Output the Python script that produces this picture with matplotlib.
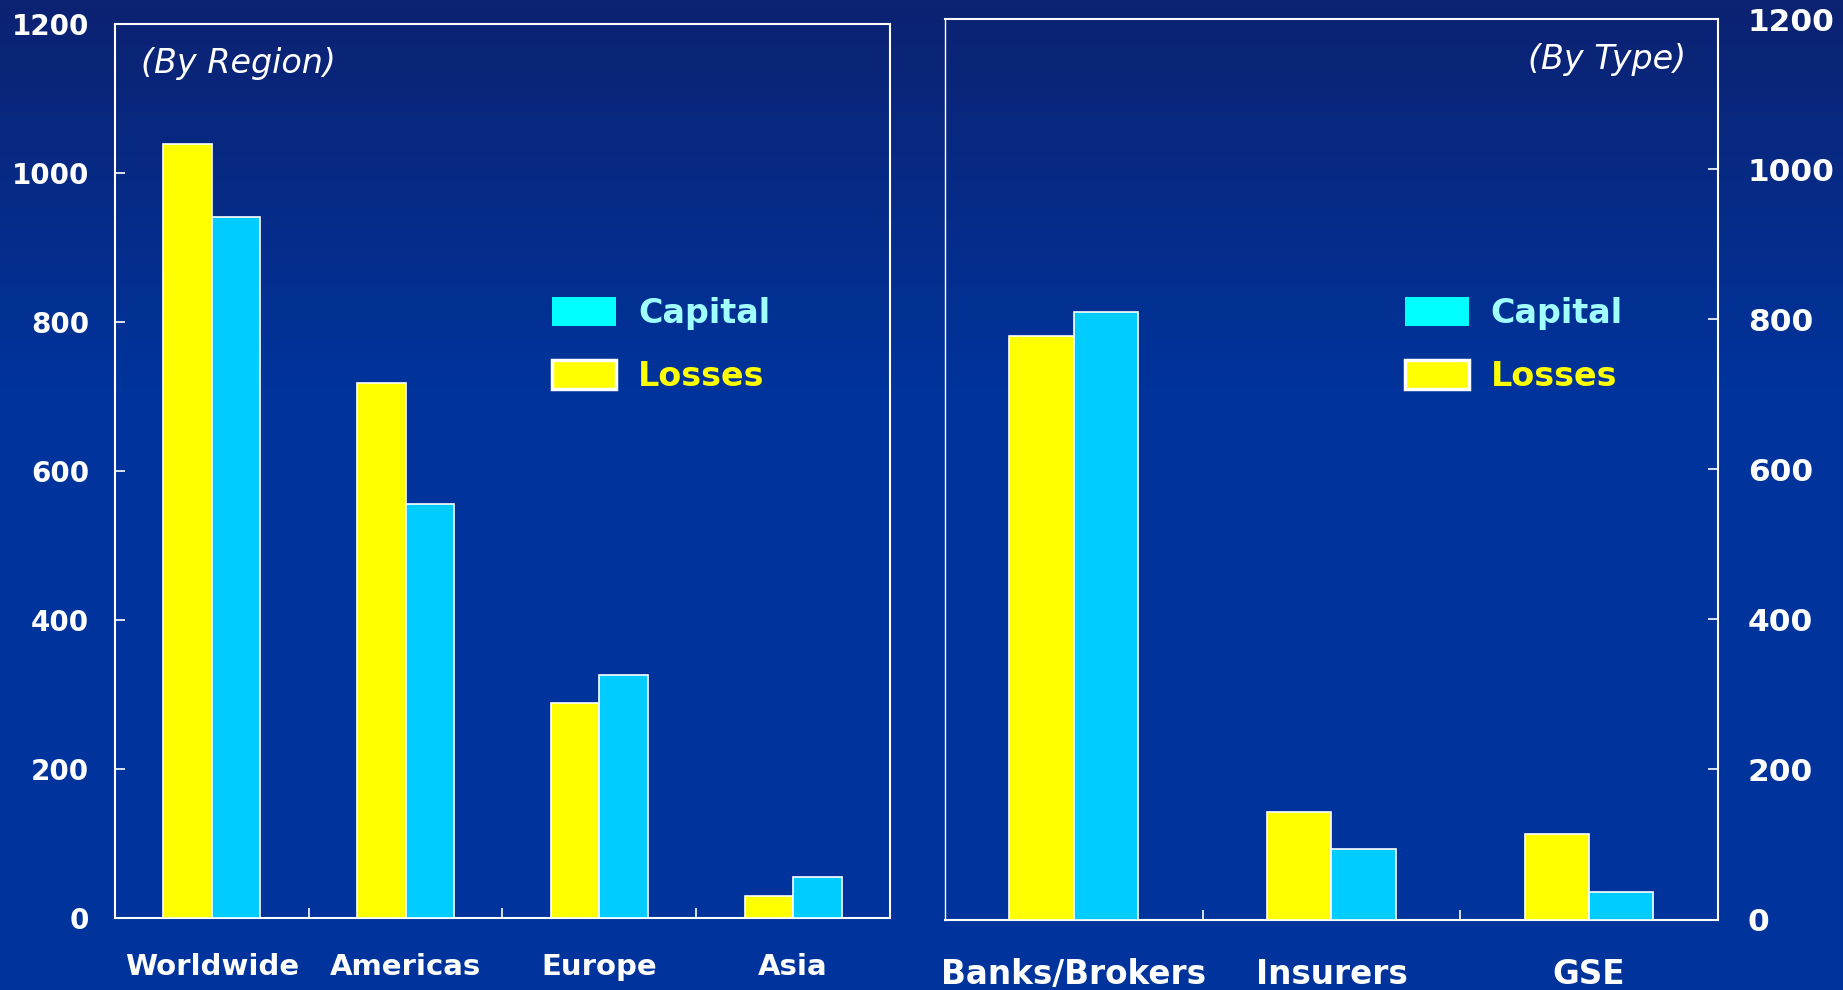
import matplotlib.pyplot as plt
import numpy as np
from matplotlib.colors import LinearSegmentedColormap
from matplotlib.patches import Patch

# losses vs capital raised, in billions
regions = ['Worldwide', 'Americas', 'Europe', 'Asia']
region_losses = [1038, 718, 288, 29]
region_capital = [940, 556, 326, 55]

types = ['Banks/Brokers', 'Insurers', 'GSE']
type_losses = [778, 143, 114]
type_capital = [810, 94, 37]

yticks = [0, 200, 400, 600, 800, 1000, 1200]

BG_TOP = '#0c2272'
BG = '#00349c'
LOSS = '#ffff00'
CAP = '#00ccff'
CAP_KEY = '#00ffff'
CAP_TEXT = '#a0ffff'

plt.rcParams['font.family'] = 'DejaVu Sans'
plt.rcParams['font.weight'] = 'bold'

fig = plt.figure(figsize=(18.43, 9.9), dpi=100)

# dark-to-blue backdrop
bg = fig.add_axes([0, 0, 1, 1], zorder=-10)
grad = np.linspace(0, 1, 256).reshape(-1, 1)
cmap = LinearSegmentedColormap.from_list('bg', [(0, BG_TOP), (0.4, BG), (1, BG)])
bg.imshow(grad, aspect='auto', cmap=cmap, extent=[0, 1, 0, 1], origin='upper')
bg.axis('off')


def panel(ax, cats, losses, capital, side, ylab_size, ylab_pad, xlab_size, xlab_pad):
    n = len(cats)
    x = np.arange(n)
    ax.bar(x + 0.375, losses, width=0.25, color=LOSS, edgecolor='white', linewidth=1.2, zorder=3)
    ax.bar(x + 0.625, capital, width=0.25, color=CAP, edgecolor='white', linewidth=1.2, zorder=3)
    ax.set_xlim(0, n)
    ax.set_ylim(0, 1200)
    ax.set_facecolor('none')
    for s in ax.spines.values():
        s.set_color('white')
        s.set_linewidth(1.5)

    # tick marks between categories, names centred under each group
    ax.set_xticks(range(1, n))
    ax.set_xticklabels([])
    ax.set_xticks(x + 0.5, cats, minor=True)
    ax.tick_params(axis='x', which='major', direction='in', length=7, width=1.2, color='white')
    ax.tick_params(axis='x', which='minor', length=0, pad=xlab_pad, labelsize=xlab_size, labelcolor='white')

    ax.set_yticks(yticks)
    if side == 'right':
        ax.yaxis.tick_right()
    ax.tick_params(axis='y', direction='in', length=7, width=1.2, color='white',
                   labelsize=ylab_size, labelcolor='white', pad=ylab_pad)

    handles = [Patch(facecolor=CAP_KEY, edgecolor='none'),
               Patch(facecolor=LOSS, edgecolor='white', linewidth=2.5)]
    return handles


def add_legend(ax, handles, anchor):
    leg = ax.legend(handles, ['Capital', 'Losses'], loc='upper left', bbox_to_anchor=anchor,
                    frameon=False, prop={'weight': 'bold', 'size': 24},
                    handlelength=1.92, handleheight=0.96, handletextpad=0.66,
                    labelspacing=0.9, borderpad=0, borderaxespad=0)
    for t, c in zip(leg.get_texts(), [CAP_TEXT, LOSS]):
        t.set_color(c)
    return leg


ax1 = fig.add_axes([0.0624, 0.0727, 0.4205, 0.9035])
h = panel(ax1, regions, region_losses, region_capital, 'left', 20, 18.7, 21, 25)
ax1.text(0.034, 0.974, '(By Region)', transform=ax1.transAxes, ha='left', va='top',
         color='white', fontsize=24, fontstyle='italic', fontweight='normal')
add_legend(ax1, h, (0.564, 0.694))

ax2 = fig.add_axes([0.5127, 0.0712, 0.4194, 0.9096])
h = panel(ax2, types, type_losses, type_capital, 'right', 22.5, 21.6, 23.5, 28)
ax2.spines['left'].set_linewidth(1.0)
ax2.text(0.9586, 0.973, '(By Type)', transform=ax2.transAxes, ha='right', va='top',
         color='white', fontsize=24, fontstyle='italic', fontweight='normal')
add_legend(ax2, h, (0.595, 0.691))

fig.savefig('out.png', dpi=100, facecolor=BG)
